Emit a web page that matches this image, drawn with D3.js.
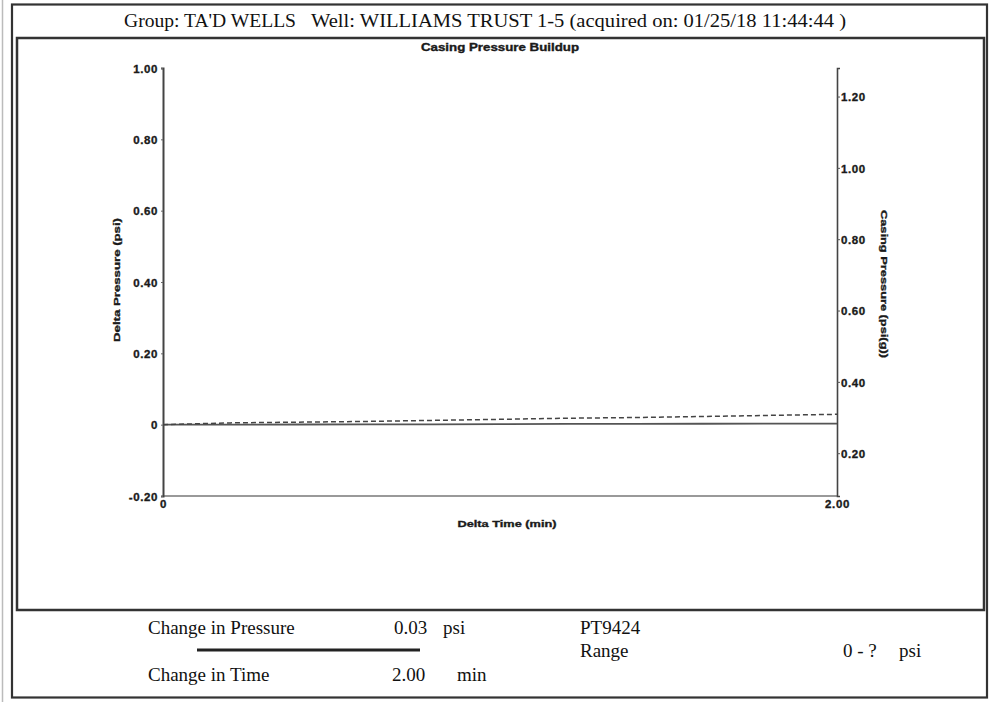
<!DOCTYPE html>
<html><head><meta charset="utf-8">
<script src="https://cdn.jsdelivr.net/npm/d3@7"></script>
<style>
html,body{margin:0;padding:0;background:#fff;}
svg{display:block;}
.serif{font-family:"Liberation Serif","Times New Roman",serif;fill:#111;}
.sans{font-family:"Liberation Sans",Arial,sans-serif;font-weight:bold;fill:#1a1a1a;stroke:#1a1a1a;stroke-width:0.35px;}
</style></head>
<body>
<svg id="c" width="994" height="702"></svg>
<script>
// ---- data ----
const timeMin = [0, 0.2, 0.4, 0.6, 0.8, 1.0, 1.2, 1.4, 1.6, 1.8, 2.0];
const deltaPressure = [0, 0.005, 0.007, 0.009, 0.012, 0.015, 0.018, 0.020, 0.023, 0.026, 0.029];
const casingPressure = [0.280, 0.2802, 0.2805, 0.2808, 0.281, 0.2815, 0.282, 0.2823, 0.2826, 0.283, 0.2832];
const leftTicks = [-0.2, 0, 0.2, 0.4, 0.6, 0.8, 1.0];
const rightTicks = [0.2, 0.4, 0.6, 0.8, 1.0, 1.2];
const xTicks = [0, 2];
const headerGroup = "Group: TA'D WELLS";
const headerWell = "Well: WILLIAMS TRUST 1-5 (acquired on: 01/25/18 11:44:44 )";
const chartTitle = "Casing Pressure Buildup";
const xTitle = "Delta Time (min)";
const yLeftTitle = "Delta Pressure (psi)";
const yRightTitle = "Casing Pressure (psi(g))";
const summary = {
  pressureLabel: "Change in Pressure", pressureValue: "0.03", pressureUnit: "psi",
  timeLabel: "Change in Time", timeValue: "2.00", timeUnit: "min",
  gauge: "PT9424", rangeLabel: "Range", rangeValue: "0 - ?", rangeUnit: "psi"
};

const svg = d3.select("#c");

// frames
svg.append("line").attr("x1",2.5).attr("x2",2.5).attr("y1",0).attr("y2",702)
  .attr("stroke","#bbb").attr("stroke-width",1.5);
svg.append("rect").attr("x",12).attr("y",4.5).attr("width",975).attr("height",693)
  .attr("fill","none").attr("stroke","#333").attr("stroke-width",2.2);
svg.append("rect").attr("x",17).attr("y",38).attr("width",967).attr("height",572)
  .attr("fill","none").attr("stroke","#333").attr("stroke-width",2.5);

// header
svg.append("text").attr("class","serif").attr("x",124).attr("y",27)
  .attr("font-size",18.5).attr("textLength",172).attr("lengthAdjust","spacingAndGlyphs").text(headerGroup);
svg.append("text").attr("class","serif").attr("x",311).attr("y",27)
  .attr("font-size",18.5).attr("textLength",535).attr("lengthAdjust","spacingAndGlyphs").text(headerWell);

// scales
const L = 163, R = 837, T = 68, B = 496;
const x = d3.scaleLinear().domain([0,2]).range([L,R]);
const yL = d3.scaleLinear().domain([-0.2,1.0]).range([B,T]);
const yR = d3.scaleLinear().domain([0.08,1.28]).range([B,T]);

const fmt2 = d => d === 0 ? "0" : d3.format(".2f")(d).replace("\u2212","-");

// title
svg.append("text").attr("class","sans").attr("x",500).attr("y",51).attr("text-anchor","middle")
  .attr("font-size",10).attr("textLength",158).attr("lengthAdjust","spacingAndGlyphs").text(chartTitle);

// x axis line
svg.append("line").attr("x1",L).attr("x2",R).attr("y1",B).attr("y2",B)
  .attr("stroke","#999").attr("stroke-width",2);

// left axis
const gL = svg.append("g").attr("transform",`translate(${L},0)`)
  .call(d3.axisLeft(yL).tickValues(leftTicks).tickFormat(fmt2).tickSize(2).tickPadding(3));
gL.select(".domain").attr("stroke","#444").attr("stroke-width",2);
gL.selectAll(".tick line").attr("stroke","#666");
gL.selectAll("text").attr("class","sans").attr("font-size",11.5).attr("letter-spacing",0.6).attr("dy","0.36em");

// right axis
const gR = svg.append("g").attr("transform",`translate(${R},0)`)
  .call(d3.axisRight(yR).tickValues(rightTicks).tickFormat(fmt2).tickSize(3).tickPadding(1));
gR.select(".domain").attr("stroke","#444").attr("stroke-width",1.6);
gR.selectAll(".tick line").attr("stroke","#555");
gR.selectAll("text").attr("class","sans").attr("font-size",11.5).attr("letter-spacing",0.6).attr("dy","0.36em");

// bottom axis labels
const gX = svg.append("g").attr("transform",`translate(0,${B})`)
  .call(d3.axisBottom(x).tickValues(xTicks).tickFormat(fmt2).tickSize(0).tickPadding(4));
gX.select(".domain").remove();
gX.selectAll("text").attr("class","sans").attr("font-size",11.5).attr("letter-spacing",0.6);

// axis titles
svg.append("text").attr("class","sans").attr("x",507).attr("y",527).attr("text-anchor","middle")
  .attr("font-size",9.5).attr("textLength",99).attr("lengthAdjust","spacingAndGlyphs").text(xTitle);
svg.append("text").attr("class","sans").attr("transform","translate(120,280) rotate(-90)")
  .attr("text-anchor","middle").attr("font-size",9.5).attr("textLength",124).attr("lengthAdjust","spacingAndGlyphs").text(yLeftTitle);
svg.append("text").attr("class","sans").attr("transform","translate(881,284) rotate(90)")
  .attr("text-anchor","middle").attr("font-size",9.5).attr("textLength",148).attr("lengthAdjust","spacingAndGlyphs").text(yRightTitle);

// series
const lineCP = d3.line().x((d,i)=>x(timeMin[i])).y(d=>yR(d));
const lineDP = d3.line().x((d,i)=>x(timeMin[i])).y(d=>yL(d));
svg.append("path").datum(casingPressure).attr("d",lineCP)
  .attr("fill","none").attr("stroke","#555").attr("stroke-width",1.8);
svg.append("path").datum(deltaPressure).attr("d",lineDP)
  .attr("fill","none").attr("stroke","#444").attr("stroke-width",1.5).attr("stroke-dasharray","5,3");

// summary block
const s = (t,xp,yp) => svg.append("text").attr("class","serif").attr("x",xp).attr("y",yp).attr("font-size",19).text(t);
s(summary.pressureLabel,148,634);
s(summary.pressureValue,394,634);
s(summary.pressureUnit,443,634);
s(summary.gauge,580,634);
s(summary.rangeLabel,580,657);
s(summary.rangeValue,843,657);
s(summary.rangeUnit,899,657);
s(summary.timeLabel,148,681);
s(summary.timeValue,392,681);
s(summary.timeUnit,457,681);
svg.append("line").attr("x1",197).attr("x2",420).attr("y1",650).attr("y2",650)
  .attr("stroke","#222").attr("stroke-width",3);
</script>
</body></html>
